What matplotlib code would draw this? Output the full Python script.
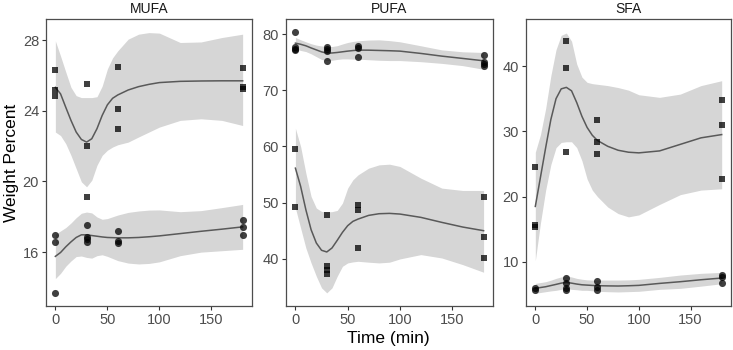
import numpy as np
import matplotlib
matplotlib.use('Agg')
from matplotlib import pyplot as plt

plt.rcParams['font.family'] = ['Liberation Sans', 'DejaVu Sans']

panels = ['MUFA', 'PUFA', 'SFA']
x_ticks = [0, 50, 100, 150]
y_ticks = {'MUFA': [16, 20, 24, 28], 'PUFA': [40, 50, 60, 70, 80], 'SFA': [10, 20, 30, 40]}
y_lims = {'MUFA': (12.95, 29.2), 'PUFA': (31.6, 82.7), 'SFA': (3.25, 47.2)}

# raw points
mufa_a_t = [0, 0, 0, 30, 30, 30, 60, 60, 60, 180, 180, 180]
mufa_a_v = [26.3, 25.2, 24.85, 25.5, 22.0, 19.1, 26.5, 24.1, 23.0, 26.45, 25.35, 25.25]
mufa_b_t = [0, 0, 0, 30, 30, 30, 30, 60, 60, 60, 180, 180, 180]
mufa_b_v = [16.95, 16.55, 13.7, 17.55, 16.85, 16.72, 16.58, 17.2, 16.65, 16.5, 17.8, 17.43, 16.98]

pufa_a_t = [0, 0, 0, 0, 30, 30, 30, 30, 60, 60, 60, 180, 180, 180, 180]
pufa_a_v = [80.3, 77.7, 77.4, 77.1, 77.75, 77.35, 76.95, 75.15, 77.9, 77.5, 75.85, 76.3, 75.0, 74.6, 74.3]
pufa_b_t = [0, 0, 30, 30, 30, 30, 60, 60, 60, 180, 180, 180]
pufa_b_v = [59.6, 49.2, 47.85, 38.7, 38.0, 37.3, 49.6, 48.75, 42.0, 51.0, 43.8, 40.15]

sfa_a_t = [0, 0, 0, 30, 30, 30, 60, 60, 60, 180, 180, 180]
sfa_a_v = [24.6, 15.7, 15.3, 43.8, 39.7, 26.8, 31.8, 28.3, 26.5, 34.8, 31.0, 22.7]
sfa_b_t = [0, 0, 30, 30, 30, 30, 60, 60, 60, 180, 180, 180]
sfa_b_v = [6.05, 5.75, 7.48, 6.71, 5.95, 5.7, 7.07, 6.2, 5.7, 8.0, 7.63, 6.82]

# smoothed fits
fit_t = [0, 5, 10, 15, 20, 25, 30, 35, 40, 45, 50, 55, 60, 70, 80, 90, 100, 120, 140, 160, 180]

mufa_a_fit = [25.33, 24.96, 24.2, 23.46, 22.8, 22.38, 22.23, 22.42, 22.99, 23.74, 24.34, 24.71, 24.9,
              25.18, 25.37, 25.5, 25.6, 25.67, 25.69, 25.7, 25.7]
mufa_a_hi = [27.96, 27.1, 26.2, 25.33, 24.86, 24.75, 24.75, 24.75, 24.8, 25.4, 26.37, 27.0, 27.4,
             28.06, 28.34, 28.43, 28.4, 27.87, 27.9, 28.15, 28.34]
mufa_a_lo = [22.8, 22.6, 22.14, 21.48, 20.73, 19.98, 19.7, 20.07, 20.92, 21.48, 21.77, 21.95, 22.08,
             22.23, 22.52, 22.8, 23.08, 23.46, 23.55, 23.46, 23.17]

mufa_b_fit = [15.76, 15.98, 16.3, 16.58, 16.83, 16.98, 16.98, 16.94, 16.9, 16.86, 16.83, 16.82, 16.81,
              16.81, 16.83, 16.87, 16.92, 17.05, 17.18, 17.3, 17.43]
mufa_b_hi = [17.01, 17.2, 17.39, 17.65, 17.95, 18.2, 18.27, 18.22, 17.99, 17.86, 17.9, 18.0, 18.1,
             18.25, 18.33, 18.38, 18.39, 18.29, 18.35, 18.52, 18.7]
mufa_b_lo = [14.5, 14.8, 15.2, 15.5, 15.75, 15.78, 15.7, 15.66, 15.8, 15.85, 15.76, 15.64, 15.52,
             15.38, 15.33, 15.36, 15.45, 15.8, 16.0, 16.08, 16.16]

pufa_a_fit = [78.4, 78.2, 77.93, 77.55, 77.2, 76.85, 76.63, 76.65, 76.74, 76.86, 76.98, 77.08, 77.16,
              77.15, 77.1, 77.05, 76.98, 76.57, 76.09, 75.68, 75.26]
pufa_a_hi = [79.4, 79.0, 78.64, 78.3, 78.05, 77.9, 77.8, 77.8, 77.95, 78.25, 78.52, 78.7, 78.82,
             78.95, 78.99, 78.85, 78.64, 77.93, 77.2, 76.86, 76.74]
pufa_a_lo = [77.35, 77.1, 76.9, 76.5, 76.0, 75.5, 75.3, 75.35, 75.5, 75.6, 75.6, 75.55, 75.55,
             75.45, 75.35, 75.3, 75.3, 75.1, 74.8, 74.4, 73.75]

pufa_b_fit = [56.14, 52.9, 48.74, 45.19, 42.82, 41.52, 41.22, 41.93, 43.29, 44.71, 45.9, 46.67, 47.08,
              47.73, 48.03, 48.09, 47.97, 47.38, 46.49, 45.66, 45.01]
pufa_b_hi = [63.24, 59.99, 55.25, 51.1, 49.04, 48.44, 48.33, 48.4, 48.62, 49.92, 52.59, 54.07, 54.96,
             56.14, 56.73, 56.85, 56.44, 54.36, 52.59, 52.17, 52.17]
pufa_b_lo = [49.04, 45.48, 41.93, 39.27, 36.9, 34.83, 33.94, 34.83, 36.9, 38.67, 39.27, 39.45, 39.56,
             39.4, 39.27, 39.4, 39.98, 40.75, 40.15, 38.97, 37.61]

sfa_a_fit = [18.5, 23.0, 27.5, 31.8, 35.0, 36.5, 36.73, 36.2, 34.4, 32.3, 30.6, 29.4, 28.6,
             27.7, 27.1, 26.8, 26.7, 27.0, 28.0, 29.0, 29.5]
sfa_a_hi = [26.8, 29.5, 33.5, 38.5, 42.5, 44.7, 45.05, 43.8, 40.3, 38.3, 37.5, 37.3, 37.2,
            37.0, 36.7, 36.3, 35.6, 35.2, 35.7, 37.0, 37.75]
sfa_a_lo = [10.2, 16.0, 21.0, 24.9, 27.5, 28.3, 28.4, 28.4, 27.5, 25.5, 22.7, 21.0, 20.0,
            18.4, 17.4, 16.9, 17.2, 18.8, 20.3, 21.0, 21.2]

sfa_b_fit = [5.95, 6.08, 6.2, 6.38, 6.56, 6.75, 6.87, 6.75, 6.61, 6.5, 6.45, 6.4, 6.36,
             6.33, 6.31, 6.35, 6.41, 6.71, 6.97, 7.27, 7.53]
sfa_b_hi = [6.71, 6.84, 6.97, 7.2, 7.48, 7.7, 7.84, 7.7, 7.48, 7.35, 7.25, 7.22, 7.22,
            7.22, 7.22, 7.25, 7.33, 7.63, 7.99, 8.25, 8.4]
sfa_b_lo = [5.2, 5.32, 5.44, 5.56, 5.65, 5.8, 5.9, 5.8, 5.74, 5.65, 5.65, 5.58, 5.5,
            5.44, 5.4, 5.45, 5.5, 5.8, 5.95, 6.29, 6.66]


def draw_group(ax, fit, hi, lo, pt_t, pt_v, marker):
    ax.fill_between(fit_t, lo, hi, color='#d6d6d6', lw=0, zorder=1)
    ax.plot(fit_t, fit, color='#595959', lw=1.1, zorder=2)
    ax.scatter(pt_t, pt_v, marker=marker, s=24 if marker == 's' else 26,
               color='black', alpha=0.75, lw=0, zorder=3)


def main():
    fig = plt.figure(figsize=(7.33, 3.5), dpi=100)
    lefts = [46, 286, 526]
    widths = [206, 207, 205]

    groups = {
        'MUFA': [(mufa_a_fit, mufa_a_hi, mufa_a_lo, mufa_a_t, mufa_a_v, 's'),
                 (mufa_b_fit, mufa_b_hi, mufa_b_lo, mufa_b_t, mufa_b_v, 'o')],
        'PUFA': [(pufa_a_fit, pufa_a_hi, pufa_a_lo, pufa_a_t, pufa_a_v, 'o'),
                 (pufa_b_fit, pufa_b_hi, pufa_b_lo, pufa_b_t, pufa_b_v, 's')],
        'SFA': [(sfa_a_fit, sfa_a_hi, sfa_a_lo, sfa_a_t, sfa_a_v, 's'),
                (sfa_b_fit, sfa_b_hi, sfa_b_lo, sfa_b_t, sfa_b_v, 'o')],
    }

    for name, left, w in zip(panels, lefts, widths):
        ax = fig.add_axes([left / 733, 1 - 306 / 350, w / 733, 287 / 350])
        for g in groups[name]:
            draw_group(ax, *g)
        ax.set_xlim(-9, 189)
        ax.set_ylim(*y_lims[name])
        ax.set_xticks(x_ticks)
        ax.set_yticks(y_ticks[name])
        ax.tick_params(direction='out', length=3, width=0.8, color='#333333',
                       labelcolor='#4d4d4d', labelsize=10.5, pad=2)
        for sp in ax.spines.values():
            sp.set_color('#4d4d4d')
            sp.set_linewidth(0.9)
        ax.set_title(name, fontsize=10, color='#1a1a1a', pad=4)

    fig.text(12 / 733, 1 - 163 / 350, 'Weight Percent', rotation=90, ha='center', va='center',
             fontsize=12.5, color='black')
    fig.text(388 / 733, 1 - 339 / 350, 'Time (min)', ha='center', va='center',
             fontsize=12.5, color='black')

    fig.savefig('out.png', dpi=100)


if __name__ == "__main__":
    main()
